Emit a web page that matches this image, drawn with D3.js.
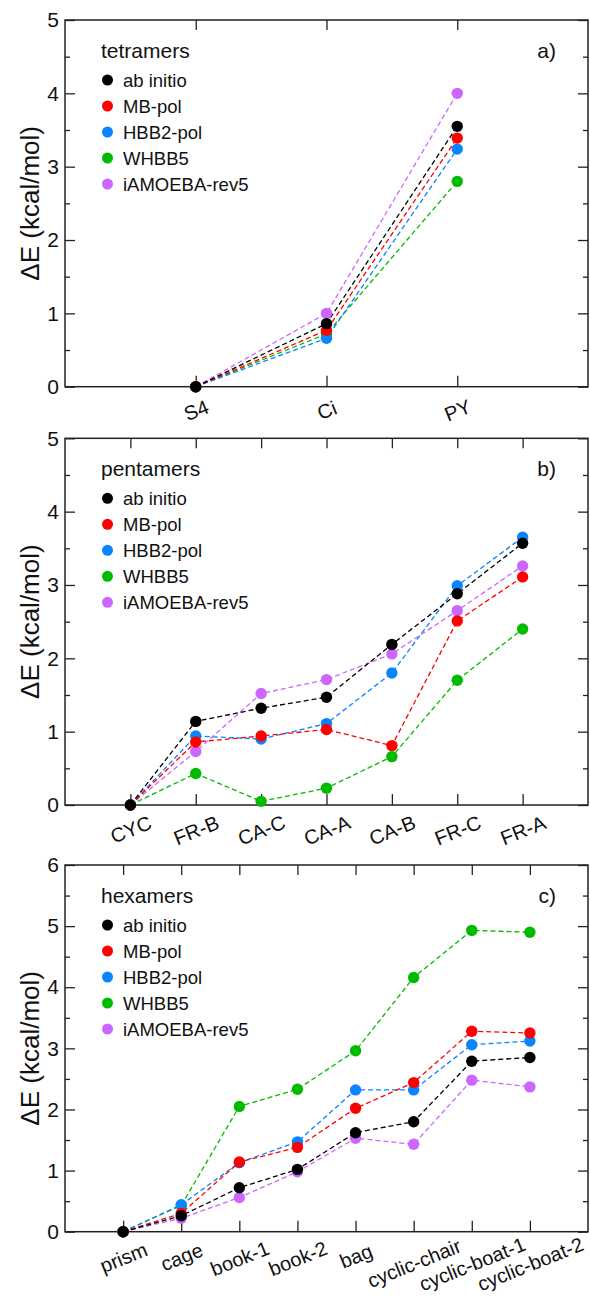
<!DOCTYPE html>
<html>
<head>
<meta charset="utf-8">
<script src="https://cdn.jsdelivr.net/npm/d3@7"></script>
<style>
  body { margin: 0; background: #fff; }
  svg { font-family: "Liberation Sans", Arial, Helvetica, sans-serif; }
</style>
</head>
<body>
<div id="chart"></div>
<script>
// series names and colours (legend order)
const seriesNames = ["ab initio", "MB-pol", "HBB2-pol", "WHBB5", "iAMOEBA-rev5"];
const seriesColors = ["#000000", "#ff0000", "#0a84ff", "#00bb00", "#cc66ff"];

// tetramers
const tetLabels = ["S4", "Ci", "PY"];
const tetAbInitio = [0, 0.86, 3.55];
const tetMBpol = [0, 0.77, 3.39];
const tetHBB2 = [0, 0.66, 3.24];
const tetWHBB5 = [0, 0.72, 2.80];
const tetAmoeba = [0, 1.00, 4.00];

// pentamers
const pentLabels = ["CYC", "FR-B", "CA-C", "CA-A", "CA-B", "FR-C", "FR-A"];
const pentAbInitio = [0, 1.14, 1.32, 1.47, 2.19, 2.88, 3.57];
const pentMBpol = [0, 0.86, 0.94, 1.03, 0.81, 2.51, 3.11];
const pentHBB2 = [0, 0.94, 0.90, 1.11, 1.80, 2.99, 3.65];
const pentWHBB5 = [0, 0.43, 0.05, 0.23, 0.66, 1.70, 2.40];
const pentAmoeba = [0, 0.73, 1.52, 1.71, 2.06, 2.65, 3.26];

// hexamers
const hexLabels = ["prism", "cage", "book-1", "book-2", "bag", "cyclic-chair", "cyclic-boat-1", "cyclic-boat-2"];
const hexAbInitio = [0, 0.26, 0.72, 1.02, 1.62, 1.80, 2.79, 2.85];
const hexMBpol = [0, 0.30, 1.14, 1.38, 2.02, 2.44, 3.28, 3.25];
const hexHBB2 = [0, 0.44, 1.13, 1.47, 2.32, 2.32, 3.06, 3.12];
const hexWHBB5 = [0, 0.43, 2.05, 2.33, 2.96, 4.16, 4.93, 4.90];
const hexAmoeba = [0, 0.22, 0.56, 0.98, 1.53, 1.43, 2.48, 2.37];

const panels = [
  {title: "tetramers", tag: "a)", labels: tetLabels, ymax: 5, top: 20,
   values: [tetAbInitio, tetMBpol, tetHBB2, tetWHBB5, tetAmoeba]},
  {title: "pentamers", tag: "b)", labels: pentLabels, ymax: 5, top: 438.3,
   values: [pentAbInitio, pentMBpol, pentHBB2, pentWHBB5, pentAmoeba]},
  {title: "hexamers", tag: "c)", labels: hexLabels, ymax: 6, top: 865,
   values: [hexAbInitio, hexMBpol, hexHBB2, hexWHBB5, hexAmoeba]}
];

const width = 590, height = 1305;
const left = 65, right = 588, plotH = 366.7;
const frameColor = "#222";

const svg = d3.select("#chart")
  .append("svg")
    .attr("width", width)
    .attr("height", height);

panels.forEach(p => {
  const g = svg.append("g").attr("transform", `translate(0,${p.top})`);

  const x = d3.scalePoint()
    .domain(p.labels)
    .range([left, right])
    .padding(1);
  const y = d3.scaleLinear()
    .domain([0, p.ymax])
    .range([plotH, 0]);

  const major = d3.range(0, p.ymax + 1);
  const minor = d3.range(0.5, p.ymax, 1);

  // left axis: labelled majors + minors
  g.append("g")
    .attr("transform", `translate(${left},0)`)
    .call(d3.axisLeft(y).tickValues(major).tickFormat(d3.format("d"))
      .tickSize(-10).tickSizeOuter(0).tickPadding(6))
    .call(a => a.selectAll("text").style("font-size", "21px").attr("fill", "#111"));
  g.append("g")
    .attr("transform", `translate(${left},0)`)
    .call(d3.axisLeft(y).tickValues(minor).tickSize(-5).tickSizeOuter(0).tickFormat(""));

  // right axis
  g.append("g")
    .attr("transform", `translate(${right},0)`)
    .call(d3.axisRight(y).tickValues(major).tickSize(-10).tickSizeOuter(0).tickFormat(""));
  g.append("g")
    .attr("transform", `translate(${right},0)`)
    .call(d3.axisRight(y).tickValues(minor).tickSize(-5).tickSizeOuter(0).tickFormat(""));

  // top axis
  g.append("g")
    .call(d3.axisTop(x).tickSize(-10).tickSizeOuter(0).tickFormat(""));

  // bottom axis with rotated labels
  g.append("g")
    .attr("transform", `translate(0,${plotH})`)
    .call(d3.axisBottom(x).tickSize(-11).tickSizeOuter(0))
    .call(a => a.selectAll("text")
      .attr("y", 0)
      .attr("dy", "0.35em")
      .attr("text-anchor", "middle")
      .attr("fill", "#111")
      .style("font-size", "20px")
      .attr("transform", d => `translate(0,${22 + d.length * 0.8}) rotate(-22)`));

  g.selectAll(".domain").remove();
  g.selectAll(".tick line").attr("stroke", frameColor).attr("stroke-width", 1.3);

  // frame
  g.append("rect")
    .attr("x", left)
    .attr("y", 0)
    .attr("width", right - left)
    .attr("height", plotH)
    .attr("fill", "none")
    .attr("stroke", frameColor)
    .attr("stroke-width", 1.5);

  // dashed lines
  const line = d3.line()
    .x((d, i) => x(p.labels[i]))
    .y(d => y(d));

  const order = [4, 3, 2, 1, 0];
  order.forEach(s => {
    g.append("path")
      .datum(p.values[s])
      .attr("d", line)
      .attr("fill", "none")
      .attr("stroke", seriesColors[s])
      .attr("stroke-width", 1.3)
      .attr("stroke-dasharray", "5,3");
  });
  order.forEach(s => {
    g.selectAll(null)
      .data(p.values[s])
      .join("circle")
      .attr("cx", (d, i) => x(p.labels[i]))
      .attr("cy", d => y(d))
      .attr("r", 5.7)
      .attr("fill", seriesColors[s]);
  });

  // legend
  g.append("text")
    .attr("x", 101)
    .attr("y", 30.5)
    .attr("dominant-baseline", "central")
    .style("font-size", "21px")
    .attr("fill", "#111")
    .text(p.title);
  seriesNames.forEach((name, i) => {
    const ly = 60 + i * 26;
    g.append("circle")
      .attr("cx", 107.5)
      .attr("cy", ly)
      .attr("r", 5.5)
      .attr("fill", seriesColors[i]);
    g.append("text")
      .attr("x", 123)
      .attr("y", ly)
      .attr("dominant-baseline", "central")
      .style("font-size", "18.5px")
      .attr("fill", "#111")
      .text(name);
  });

  // panel tag
  g.append("text")
    .attr("x", 556)
    .attr("y", 30.5)
    .attr("text-anchor", "end")
    .attr("dominant-baseline", "central")
    .style("font-size", "21px")
    .attr("fill", "#111")
    .text(p.tag);

  // y axis title
  g.append("text")
    .attr("transform", `translate(30,${plotH / 2}) rotate(-90)`)
    .attr("text-anchor", "middle")
    .attr("dominant-baseline", "central")
    .style("font-size", "26px")
    .attr("fill", "#111")
    .text("ΔE (kcal/mol)");
});
</script>
</body>
</html>
